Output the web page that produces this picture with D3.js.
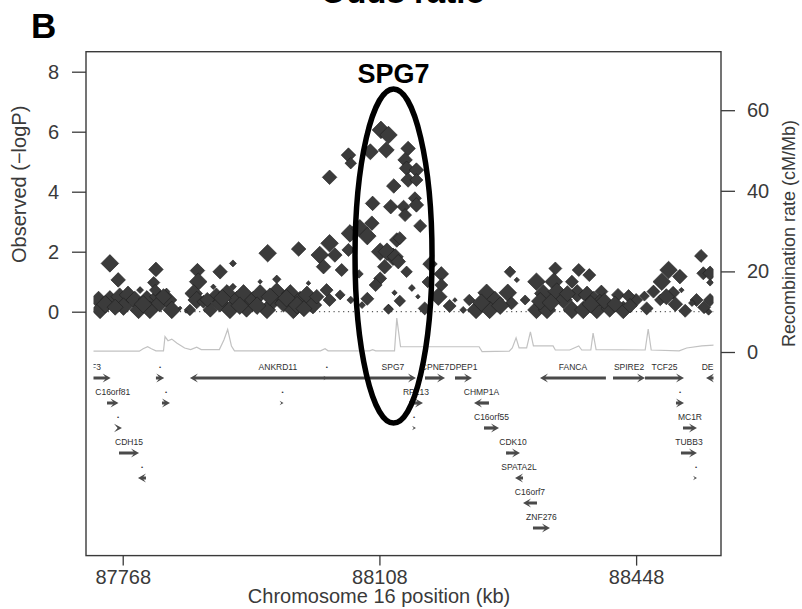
<!DOCTYPE html>
<html>
<head>
<meta charset="utf-8">
<script src="https://cdn.jsdelivr.net/npm/d3@7"></script>
<style>
  body { margin: 0; background: #fff; }
  svg { display: block; font-family: Arial, "Liberation Sans", sans-serif; }
</style>
</head>
<body>
<svg id="chart" width="802" height="609"></svg>
<script>
// ---- data ----
const x_ticks = [87768, 88108, 88448];
const logp_ticks = [0, 2, 4, 6, 8];
const recomb_ticks = [0, 20, 40, 60];

// [position kb, -log10 P, weight]
const snps = [
  [87751, 1.61, 1.0], [87762, 1.06, 0.8], [87812, 1.41, 0.8], [87809, 0.97, 0.65],
  [87867, 1.37, 0.8], [87897, 1.33, 0.8], [87914, 1.61, 0.3], [87868, 1.0, 1.0],
  [87960, 1.95, 1.0], [87972, 1.08, 0.4], [88001, 2.09, 0.8], [88042, 4.48, 0.8],
  [88067, 5.22, 0.8], [88070, 4.95, 0.6], [88042, 2.28, 1.0], [88029, 1.89, 1.0],
  [88049, 1.89, 0.8], [88034, 1.5, 0.8], [88058, 1.39, 0.7], [88069, 2.61, 1.0],
  [88067, 2.06, 0.7], [88082, 2.78, 1.0], [88098, 2.95, 0.8], [88092, 2.52, 1.0],
  [88081, 1.26, 0.4], [88110, 6.06, 1.0], [88120, 5.89, 1.0], [88096, 5.33, 0.9],
  [88117, 5.39, 0.9], [88127, 4.19, 0.8], [88099, 3.61, 0.8], [88123, 3.5, 0.8],
  [88109, 2.0, 1.0], [88126, 1.83, 1.0], [88115, 1.5, 0.8], [88109, 1.11, 0.7],
  [88103, 0.89, 0.7], [88092, 0.43, 0.7], [88120, 0.11, 0.4], [88070, 0.39, 0.35],
  [88131, 2.39, 0.8], [88146, 5.44, 0.8], [88142, 5.06, 0.8], [88144, 4.78, 0.8],
  [88157, 4.72, 0.8], [88146, 4.39, 0.8], [88157, 4.39, 0.7], [88155, 3.78, 0.7],
  [88140, 3.5, 0.7], [88157, 3.56, 0.8], [88142, 3.22, 0.7], [88162, 2.86, 0.7],
  [88135, 2.45, 0.7], [88118, 2.0, 1.0], [88129, 1.83, 0.9], [88133, 1.67, 0.8],
  [88144, 1.33, 0.6], [88175, 1.59, 0.8], [88190, 1.26, 0.8], [88190, 0.89, 0.7],
  [88186, 0.5, 1.0], [88201, 0.19, 0.7], [88135, 0.36, 0.6], [88120, 0.08, 0.5],
  [88168, 0.11, 0.7], [88128, 0.63, 0.2], [88159, 0.5, 0.15],
  [88227, 0.39, 0.6], [88236, 0.06, 1.0], [88250, 0.63, 1.0], [88261, 0.39, 1.0],
  [88254, 0.06, 1.0], [88278, 0.63, 1.0], [88283, 0.28, 0.7], [88281, 1.33, 0.6],
  [88290, 1.06, 0.2], [88316, 1.0, 1.0], [88325, 0.61, 1.0], [88316, 0.06, 1.0],
  [88330, 0.06, 1.0], [88341, 1.44, 0.7], [88339, 1.0, 1.0], [88343, 0.67, 1.0],
  [88352, 0.39, 1.0], [88363, 1.0, 0.7], [88372, 1.39, 0.7], [88386, 1.22, 0.7],
  [88370, 0.61, 1.0], [88383, 0.56, 1.0], [88392, 0.39, 1.0], [88363, 0.06, 1.0],
  [88378, 0.06, 1.0], [88396, 0.06, 1.0], [88402, 0.67, 0.7], [88424, 0.56, 0.7],
  [88413, 0.11, 1.0], [88431, 0.06, 1.0], [88448, 0.39, 0.7], [88462, 0.11, 0.7],
  [88471, 0.67, 0.7], [88482, 1.0, 1.0], [88491, 1.39, 1.0], [88506, 1.17, 0.8],
  [88497, 0.63, 0.7], [88508, 0.72, 0.2], [88528, 0.39, 0.7], [88513, 0.03, 0.7],
  [88534, 1.86, 0.7], [88537, 1.28, 0.7], [88546, 1.28, 0.8], [88546, 0.97, 0.3],
  [88546, 0.39, 0.7], [88544, 0.0, 0.3],
  [87736, 0.39, 1.0], [87738, 0.06, 1.0], [87751, 0.41, 1.0], [87764, 0.5, 1.0],
  [87775, 0.56, 1.0], [87769, 0.17, 1.0], [87784, 0.39, 1.0], [87789, 0.06, 1.0],
  [87800, 0.41, 1.0], [87804, 0.06, 1.0], [87815, 0.5, 1.0], [87817, 0.28, 1.0],
  [87828, 0.39, 1.0], [87833, 0.06, 1.0], [87811, 0.72, 0.6], [87826, 0.67, 0.3],
  [87791, 0.72, 0.3], [87862, 0.61, 1.0], [87866, 0.39, 1.0], [87857, 0.06, 0.6],
  [87875, 0.33, 0.7], [87884, 0.06, 0.8], [87892, 0.5, 1.0], [87897, 0.28, 1.0],
  [87906, 0.61, 1.0], [87910, 0.06, 1.0], [87919, 0.39, 1.0], [87928, 0.61, 1.0],
  [87932, 0.11, 1.0], [87941, 0.39, 1.0], [87950, 0.61, 1.0], [87959, 0.06, 1.0],
  [87968, 0.39, 1.0], [87972, 0.67, 1.0], [87981, 0.28, 1.0], [87990, 0.61, 1.0],
  [87994, 0.06, 1.0], [88003, 0.39, 1.0], [88012, 0.56, 1.0], [88020, 0.22, 1.0],
  [88025, 0.5, 0.8], [87914, 0.83, 0.3], [87950, 1.0, 0.15], [88014, 0.95, 0.15],
  [87888, 0.83, 0.2], [88038, 0.72, 0.7], [88042, 0.39, 0.7],
  [87844, 0.12, 0.1], [87852, 0.0, 0.05], [88056, 0.56, 0.5], [88085, 0.22, 0.3],
  [88208, 0.39, 0.15], [88219, 0.06, 0.3], [88301, 0.39, 0.5], [88400, 0.39, 0.6],
  [88480, 0.39, 0.6], [88438, 0.52, 0.7], [88459, 0.52, 0.5], [88522, 0.29, 0.3],
  [88172, 0.99, 0.6], [88151, 0.79, 0.3],
  [87745, 0.25, 1.0], [87758, 0.15, 0.9], [87795, 0.25, 1.0], [87822, 0.5, 0.9],
  [87900, 0.45, 1.0], [87923, 0.2, 1.0], [87946, 0.2, 1.0], [87963, 0.5, 1.0],
  [87985, 0.45, 1.0], [87999, 0.22, 1.0], [88008, 0.1, 0.9], [87880, 0.4, 0.8],
  [88243, 0.3, 1.0], [88268, 0.2, 1.0], [88321, 0.35, 1.0], [88335, 0.3, 1.0],
  [88357, 0.6, 0.9], [88388, 0.25, 1.0], [88406, 0.35, 0.9], [88420, 0.25, 0.9],
  [88440, 0.2, 0.8], [88488, 0.5, 0.9], [88500, 0.25, 0.8], [88538, 0.15, 0.7]
];

// recombination rate (cM/Mb) along the region
const recomb = [
  [87720, 0.2], [87790, 0.2], [87795, 0.8], [87801, 1.3], [87806, 0.8], [87812, 0.3],
  [87822, 0.3], [87824, 3.8], [87828, 2.8], [87833, 3.2], [87840, 2.2], [87850, 1.0],
  [87858, 0.6], [87866, 1.2], [87872, 0.6], [87896, 0.6], [87902, 3.0], [87907, 5.6],
  [87912, 1.5], [87916, 0.3], [88030, 0.3], [88036, 0.8], [88040, 0.3], [88095, 0.3],
  [88099, 0.6], [88103, 0.3], [88128, 0.3], [88131, 8.4], [88136, 1.3], [88240, 1.3],
  [88244, 0.1], [88280, 0.2], [88284, 1.0], [88289, 3.5], [88293, 1.0], [88303, 1.0],
  [88308, 5.0], [88312, 1.5], [88338, 1.5], [88341, 0.5], [88360, 0.5], [88372, 1.5],
  [88376, 0.5], [88388, 0.5], [88391, 4.7], [88395, 0.6], [88460, 0.5], [88464, 5.7],
  [88468, 0.5], [88505, 0.3], [88515, 1.0], [88535, 1.5], [88560, 1.8]
];

// genes: name, start kb, end kb, strand, track row
const genes = [
  ["ACSF3", 87690, 87752, 1, 0],
  ["•", 87812, 87823, 1, 0],
  ["ANKRD11", 87857, 88090, -1, 0],
  ["•", 88037.5, 88039, 1, 0],
  ["SPG7", 88095.5, 88156.4, 1, 0],
  ["CPNE7", 88168.4, 88194.9, 1, 0],
  ["DPEP1", 88208.1, 88230.6, 1, 0],
  ["FANCA", 88320.7, 88408, -1, 0],
  ["SPIRE2", 88417.4, 88459.8, 1, 0],
  ["TCF25", 88459.8, 88511.4, 1, 0],
  ["DEF8", 88540.6, 88557.8, -1, 0],
  ["C16orf81", 87747.2, 87762.4, 1, 1],
  ["•", 87820, 87830.6, 1, 1],
  ["•", 87978.3, 87981, 1, 1],
  ["RPL13", 88147.2, 88165.7, 1, 1],
  ["CHMP1A", 88233.3, 88253.1, -1, 1],
  ["•", 88500.8, 88511.4, 1, 1],
  ["•", 87756.5, 87767, 1, 2],
  ["•", 88151.2, 88156.4, 1, 2],
  ["C16orf55", 88246.5, 88266.4, 1, 2],
  ["MC1R", 88510.1, 88528.6, 1, 2],
  ["CDH15", 87763.1, 87789.6, 1, 3],
  ["CDK10", 88275.7, 88294.2, 1, 3],
  ["TUBB3", 88507.4, 88528.6, 1, 3],
  ["•", 87788.2, 87798.8, -1, 4],
  ["SPATA2L", 88287.6, 88298.2, -1, 4],
  ["•", 88526, 88528.6, 1, 4],
  ["C16orf7", 88298.2, 88316.7, -1, 5],
  ["ZNF276", 88311.4, 88333.9, 1, 6]
];

// highlighted locus (ellipse)
const highlight = { name: "SPG7", from: 88075.7, to: 88177.7, top: 7.42, bottom: -3.71 };

// ---- chart ----
const svg = d3.select("#chart");
const frame = { left: 86, right: 721, top: 51.7, bottom: 555.6 };
const clip_x = [93.5, 713.5];

const x = d3.scaleLinear().domain([87729.3, 88550.5]).range(clip_x);
const y_logp = d3.scaleLinear().domain([0, 8]).range([311.7, 71.7]);
const y_recomb = d3.scaleLinear().domain([0, 60]).range([352, 110.2]);
const y_row = d3.scaleLinear().domain([0, 1]).range([378, 403]);
const half_size = d3.scaleLinear().domain([0, 1]).range([1.2, 8.8]);

svg.append("rect").attr("width", 802).attr("height", 609).attr("fill", "#fff");

// headline (cropped at top) and panel letter
svg.append("text")
  .attr("x", 403).attr("y", 3)
  .attr("text-anchor", "middle")
  .style("font-size", "33px").style("font-weight", "bold")
  .text("Odds ratio");

svg.append("text")
  .attr("x", 31).attr("y", 38)
  .style("font-size", "35px").style("font-weight", "bold")
  .text("B");

svg.append("defs").append("clipPath").attr("id", "plot-clip")
  .append("rect")
  .attr("x", clip_x[0]).attr("y", frame.top)
  .attr("width", clip_x[1] - clip_x[0])
  .attr("height", frame.bottom - frame.top);

const plot = svg.append("g").attr("clip-path", "url(#plot-clip)");

// recombination rate
plot.append("path")
  .datum(recomb)
  .attr("fill", "none")
  .attr("stroke", "#c2c2c2")
  .attr("stroke-width", 1.2)
  .attr("d", d3.line().x(d => x(d[0])).y(d => y_recomb(d[1])));

// zero line
plot.append("line")
  .attr("x1", clip_x[0]).attr("x2", clip_x[1])
  .attr("y1", y_logp(0)).attr("y2", y_logp(0))
  .attr("stroke", "#333")
  .attr("stroke-width", 1)
  .attr("stroke-dasharray", "1.2,3.6");

// snps as diamonds
const square = d3.symbol().type(d3.symbolSquare);
plot.append("g")
  .selectAll("path")
  .data(snps)
  .join("path")
  .attr("transform", d => `translate(${ x(d[0]) },${ y_logp(d[1]) }) rotate(45)`)
  .attr("d", d => square.size(2 * half_size(d[2]) ** 2)())
  .attr("fill", "#3b3b3b")
  .attr("stroke", "#1f1f1f")
  .attr("stroke-width", 0.6);

// gene track
const gene_g = plot.append("g");
genes.forEach(([name, start, end, strand, row]) => {
  const yy = y_row(row);
  const x1 = x(start), x2 = x(end);
  const len = x2 - x1;
  const tip = strand > 0 ? x2 : x1;
  const tail = strand > 0 ? x1 : x2;
  const h = Math.min(8, Math.max(4, len));
  const w = h * 0.55;

  if (len > h) {
    gene_g.append("line")
      .attr("x1", tail).attr("x2", tip - strand * h * 0.5)
      .attr("y1", yy).attr("y2", yy)
      .attr("stroke", "#4a4a4a")
      .attr("stroke-width", 3.2);
  }
  gene_g.append("path")
    .attr("d", `M${ tip },${ yy } L${ tip - strand * h },${ yy - w } L${ tip - strand * h * 0.55 },${ yy } L${ tip - strand * h },${ yy + w } Z`)
    .attr("fill", "#4a4a4a");

  gene_g.append("text")
    .attr("x", (x1 + x2) / 2)
    .attr("y", yy - 11)
    .attr("dy", "0.35em")
    .attr("text-anchor", "middle")
    .style("font-size", name === "•" ? "6px" : "8.5px")
    .style("fill", "#2e2e2e")
    .text(name);
});

// frame
svg.append("rect")
  .attr("x", frame.left).attr("y", frame.top)
  .attr("width", frame.right - frame.left)
  .attr("height", frame.bottom - frame.top)
  .attr("fill", "none")
  .attr("stroke", "#3a3a3a")
  .attr("stroke-width", 1.4);

// axes
const style_axis = (g) => {
  g.select(".domain").remove();
  g.selectAll(".tick line").attr("stroke", "#3a3a3a").attr("stroke-width", 1.3);
  g.selectAll(".tick text")
    .style("font-size", "20px")
    .style("font-family", "Arial, 'Liberation Sans', sans-serif")
    .attr("fill", "#3a3a3a");
};

svg.append("g")
  .attr("transform", `translate(${ frame.left },0)`)
  .call(d3.axisLeft(y_logp).tickValues(logp_ticks).tickSize(14).tickPadding(13))
  .call(style_axis);

svg.append("g")
  .attr("transform", `translate(${ frame.right },0)`)
  .call(d3.axisRight(y_recomb).tickValues(recomb_ticks).tickSize(14).tickPadding(12))
  .call(style_axis);

svg.append("g")
  .attr("transform", `translate(0,${ frame.bottom })`)
  .call(d3.axisBottom(x).tickValues(x_ticks).tickSize(10).tickPadding(4).tickFormat(d3.format("d")))
  .call(style_axis);

// axis titles
svg.append("text")
  .attr("x", 379).attr("y", 603)
  .attr("text-anchor", "middle")
  .style("font-size", "20px")
  .attr("fill", "#3a3a3a")
  .text("Chromosome 16 position (kb)");

svg.append("text")
  .attr("transform", "translate(26,263) rotate(-90)")
  .style("font-size", "20px")
  .attr("fill", "#3a3a3a")
  .text("Observed (\u2212logP)");

svg.append("text")
  .attr("transform", "translate(795,347) rotate(-90)")
  .style("font-size", "18px")
  .attr("fill", "#3a3a3a")
  .text("Recombination rate (cM/Mb)");

// highlighted locus
const ex1 = x(highlight.from), ex2 = x(highlight.to);
const ey1 = y_logp(highlight.top), ey2 = y_logp(highlight.bottom);
svg.append("ellipse")
  .attr("cx", (ex1 + ex2) / 2).attr("cy", (ey1 + ey2) / 2)
  .attr("rx", (ex2 - ex1) / 2).attr("ry", (ey2 - ey1) / 2)
  .attr("fill", "none")
  .attr("stroke", "#000")
  .attr("stroke-width", 5.5);

svg.append("text")
  .attr("x", (ex1 + ex2) / 2).attr("y", ey1 - 6)
  .attr("text-anchor", "middle")
  .style("font-size", "27px").style("font-weight", "bold")
  .text(highlight.name);
</script>
</body>
</html>
